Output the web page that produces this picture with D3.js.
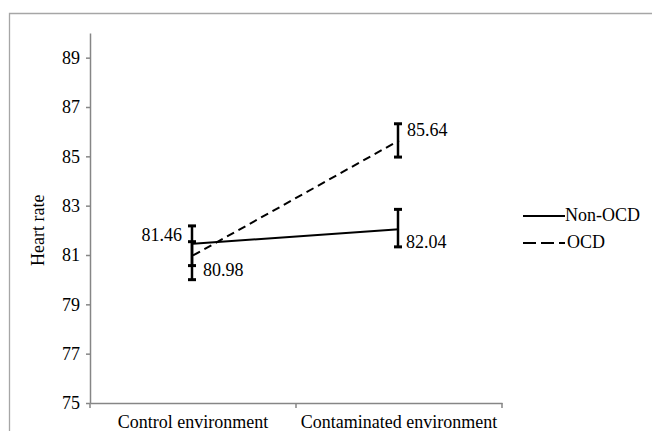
<!DOCTYPE html>
<html>
<head>
<meta charset="utf-8">
<script src="https://cdn.jsdelivr.net/npm/d3@7"></script>
<style>
  body { margin: 0; background: #fff; }
  text { font-family: "Liberation Serif", "Times New Roman", serif; fill: #000; }
</style>
</head>
<body>
<div id="chart"></div>
<script>
// data
const categories = ["Control environment", "Contaminated environment"];
const seriesNames = ["Non-OCD", "OCD"];
const nonOcdMeans = [81.46, 82.04];
const ocdMeans = [80.98, 85.64];
const nonOcdLow = [80.57, 81.33];
const nonOcdHigh = [82.18, 82.85];
const ocdLow = [80.0, 84.97];
const ocdHigh = [81.54, 86.32];
const yTicks = [75, 77, 79, 81, 83, 85, 87, 89];

const width = 652;
const height = 431;
const serif = "'Liberation Serif', 'Times New Roman', serif";

const svg = d3
  .select("#chart")
  .append("svg")
  .attr("width", width)
  .attr("height", height);

// outer chart border (cropped at right and bottom)
svg
  .append("path")
  .attr("d", `M9.5,${height} V13.5 H${width}`)
  .attr("fill", "none")
  .attr("stroke", "#a6a6a6")
  .attr("stroke-width", 1.3);

const x = d3.scaleBand().domain(categories).range([90, 502]);
const y = d3.scaleLinear().domain([75, 90]).range([403, 33]);
const cx = (i) => x(categories[i]) + x.bandwidth() / 2;

// y axis
const yAxis = svg
  .append("g")
  .attr("transform", "translate(90,0)")
  .call(d3.axisLeft(y).tickValues(yTicks).tickSize(4).tickSizeOuter(0).tickPadding(6));
yAxis.attr("font-family", serif).attr("font-size", 18);
yAxis.select(".domain").attr("stroke", "#868686").attr("stroke-width", 1.5);
yAxis.selectAll(".tick line").attr("stroke", "#868686").attr("stroke-width", 1.5);

// x axis
const xAxis = svg
  .append("g")
  .attr("transform", "translate(0,403)")
  .call(d3.axisBottom(x).tickSize(0).tickPadding(12));
xAxis.attr("font-family", serif).attr("font-size", 18);
xAxis.select(".domain").attr("stroke", "#868686").attr("stroke-width", 1.5);
// category boundary ticks
svg
  .append("g")
  .selectAll("line")
  .data([0, 1, 2])
  .enter()
  .append("line")
  .attr("x1", (d) => 90 + d * x.bandwidth())
  .attr("x2", (d) => 90 + d * x.bandwidth())
  .attr("y1", 403)
  .attr("y2", 408)
  .attr("stroke", "#868686")
  .attr("stroke-width", 1.5);

// y title
svg
  .append("text")
  .attr("transform", `translate(44,${y(82)}) rotate(-90)`)
  .attr("text-anchor", "middle")
  .style("font-size", "18px")
  .text("Heart rate");

const line = d3
  .line()
  .x((d, i) => cx(i))
  .y((d) => y(d));

const series = [
  { name: seriesNames[0], means: nonOcdMeans, low: nonOcdLow, high: nonOcdHigh, dash: null },
  { name: seriesNames[1], means: ocdMeans, low: ocdLow, high: ocdHigh, dash: "8,5" }
];

series.forEach((s) => {
  svg
    .append("path")
    .attr("d", line(s.means))
    .attr("fill", "none")
    .attr("stroke", "#000")
    .attr("stroke-width", 2)
    .attr("stroke-dasharray", s.dash);
});

// error bars
series.forEach((s) => {
  const g = svg.append("g");
  s.means.forEach((m, i) => {
    const px = cx(i) - 1;
    g.append("line")
      .attr("x1", px).attr("x2", px)
      .attr("y1", y(s.low[i])).attr("y2", y(s.high[i]))
      .attr("stroke", "#000").attr("stroke-width", 2.5);
    [s.low[i], s.high[i]].forEach((v) => {
      g.append("line")
        .attr("x1", px - 4).attr("x2", px + 4)
        .attr("y1", y(v)).attr("y2", y(v))
        .attr("stroke", "#000").attr("stroke-width", 3);
    });
  });
});

// value labels
const labels = [
  { v: nonOcdMeans[0], i: 0, dx: -11, dy: -3, anchor: "end" },
  { v: ocdMeans[0], i: 0, dx: 10, dy: 21, anchor: "start" },
  { v: nonOcdMeans[1], i: 1, dx: 7, dy: 19, anchor: "start" },
  { v: ocdMeans[1], i: 1, dx: 8, dy: -5, anchor: "start" }
];
svg
  .append("g")
  .selectAll("text")
  .data(labels)
  .enter()
  .append("text")
  .attr("x", (d) => cx(d.i) + d.dx)
  .attr("y", (d) => y(d.v) + d.dy)
  .attr("text-anchor", (d) => d.anchor)
  .style("font-size", "18px")
  .text((d) => d.v.toFixed(2));

// legend
const legend = svg.append("g").attr("transform", "translate(523,216)");
series.forEach((s, i) => {
  legend
    .append("line")
    .attr("x1", 0).attr("x2", 42)
    .attr("y1", i * 27).attr("y2", i * 27)
    .attr("stroke", "#000")
    .attr("stroke-width", 2)
    .attr("stroke-dasharray", s.dash ? "13,5" : null);
  legend
    .append("text")
    .attr("x", 42 + i * 2)
    .attr("y", i * 27 + 5)
    .style("font-size", "18px")
    .text(s.name);
});
</script>
</body>
</html>
